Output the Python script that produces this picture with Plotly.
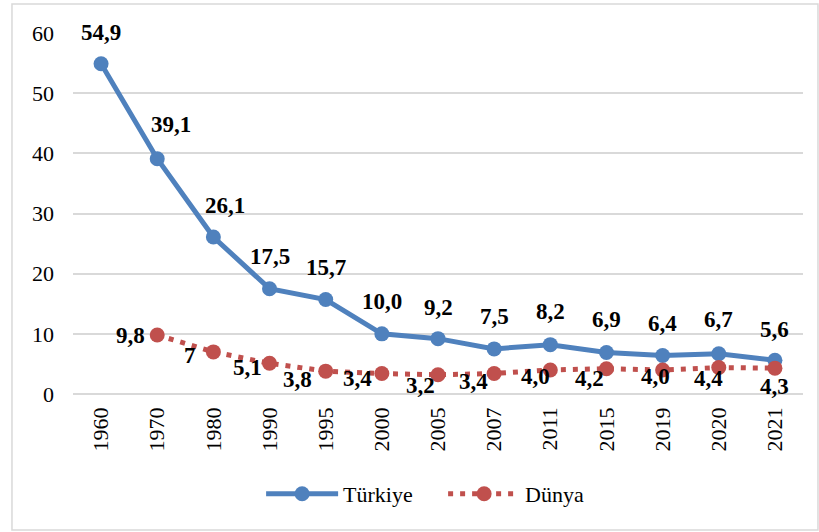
import plotly.graph_objects as go

years = ["1960", "1970", "1980", "1990", "1995", "2000", "2005", "2007", "2011", "2015", "2019", "2020", "2021"]
turkiye = [54.9, 39.1, 26.1, 17.5, 15.7, 10.0, 9.2, 7.5, 8.2, 6.9, 6.4, 6.7, 5.6]
turkiye_labels = ["54,9", "39,1", "26,1", "17,5", "15,7", "10,0", "9,2", "7,5", "8,2", "6,9", "6,4", "6,7", "5,6"]
dunya = [None, 9.8, 7.0, 5.1, 3.8, 3.4, 3.2, 3.4, 4.0, 4.2, 4.0, 4.4, 4.3]
dunya_labels = [None, "9,8", "7", "5,1", "3,8", "3,4", "3,2", "3,4", "4,0", "4,2", "4,0", "4,4", "4,3"]
y_ticks = [0, 10, 20, 30, 40, 50, 60]

# label offsets (pixels) - styling only
tr_dx = [0, 14, 12, 0, 0, 0, 0, 0, 0, 0, 0, 0, 0]
tr_dy = [31, 34, 31, 32, 32, 32, 31, 32, 33, 33, 32, 34, 31]
dn_dx = [0, -27, -23, -22, -28, -24, -18, -21, -15, -17, -7, -10, 0]
dn_dy = [0, 0, -4, -4, -8, -5, -11, -8, -7, -10, -7, -11, -18]

BLUE = "#4f81bd"
RED = "#c0504d"
FONT = "Liberation Serif"

fig = go.Figure()
fig.add_trace(go.Scatter(
    x=years, y=turkiye, name="Türkiye", mode="lines+markers",
    line=dict(color=BLUE, width=5),
    marker=dict(color=BLUE, size=15),
))
fig.add_trace(go.Scatter(
    x=years, y=dunya, name="Dünya", mode="lines+markers",
    line=dict(color=RED, width=5, dash="5px,7px"),
    marker=dict(color=RED, size=15),
))

# category axis: annotation x uses the category index
annotations = []
for i, (v, lab) in enumerate(zip(turkiye, turkiye_labels)):
    annotations.append(dict(x=i, y=v, xref="x", yref="y", text="<b>%s</b>" % lab, showarrow=False,
                            xshift=tr_dx[i], yshift=tr_dy[i],
                            font=dict(family=FONT, size=23, color="black")))
for i, (v, lab) in enumerate(zip(dunya, dunya_labels)):
    if v is None:
        continue
    annotations.append(dict(x=i, y=v, xref="x", yref="y", text="<b>%s</b>" % lab, showarrow=False,
                            xshift=dn_dx[i], yshift=dn_dy[i],
                            font=dict(family=FONT, size=23, color="black")))

fig.update_layout(
    width=819, height=532,
    margin=dict(l=73, r=16, t=33, b=138),
    paper_bgcolor="white", plot_bgcolor="white",
    font=dict(family=FONT, size=22, color="black"),
    showlegend=True,
    legend=dict(orientation="h", x=0.507, xanchor="center", y=-0.277, yanchor="middle",
                font=dict(family=FONT, size=22), itemwidth=72, entrywidth=95,
                traceorder="normal"),
    annotations=annotations,
    shapes=[dict(type="rect", xref="paper", yref="paper",
                 x0=-0.0836, x1=1.0205, y0=-0.377, y1=1.080,
                 line=dict(color="#d9d9d9", width=1.5), layer="below")],
)
fig.update_xaxes(
    type="category", range=[-0.5, len(years) - 0.5],
    tickangle=-90, showgrid=False, showline=False, ticks="",
    tickfont=dict(family=FONT, size=22), ticklabelstandoff=8,
)
fig.update_yaxes(
    range=[0, 60], tickvals=y_ticks, showgrid=True, gridcolor="#d9d9d9", gridwidth=1.5,
    zeroline=True, zerolinecolor="#d9d9d9", zerolinewidth=1.5, showline=False,
    tickfont=dict(family=FONT, size=22), ticklabelstandoff=18,
)

fig.write_html("out.html", config={"displayModeBar": False},
               post_script="document.body.style.margin='0';")
